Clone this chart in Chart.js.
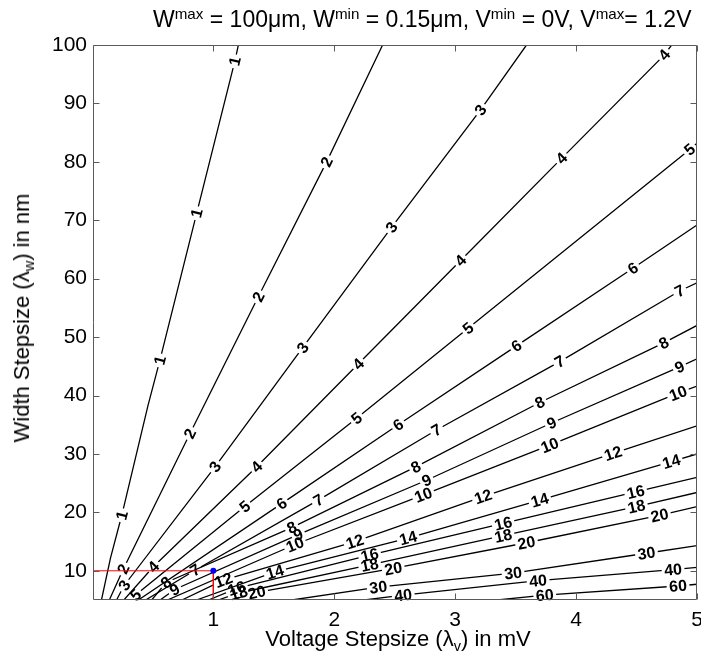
<!DOCTYPE html>
<html>
<head>
<meta charset="utf-8">
<script src="https://cdn.jsdelivr.net/npm/chart.js@4.4.1/dist/chart.umd.min.js"></script>
<style>
html,body{margin:0;padding:0;background:#fff;}
#wrap{position:relative;width:701px;height:654px;font-family:"Liberation Sans",Arial,Helvetica,sans-serif;color:#000;overflow:hidden;}
#c{position:absolute;left:0;top:0;}
.t{position:absolute;white-space:nowrap;line-height:1;}
.t sup{font-size:66%;vertical-align:0.55em;line-height:0;}
.t sub{font-size:66%;vertical-align:-0.35em;line-height:0;}
#title{left:153px;top:8px;font-size:23px;}
#xt{left:398px;top:628px;font-size:22px;transform:translateX(-50%);}
#yt{left:22px;top:318px;font-size:22px;transform:translate(-50%,-50%) rotate(-90deg);}
</style>
</head>
<body>
<div id="wrap">
<canvas id="c" width="701" height="654"></canvas>
<div class="t" id="title">W<sup>max</sup> = 100μm, W<sup>min</sup> = 0.15μm, V<sup>min</sup> = 0V, V<sup>max</sup>= 1.2V</div>
<div class="t" id="xt">Voltage Stepsize (λ<sub>v</sub>) in mV</div>
<div class="t" id="yt">Width Stepsize (λ<sub>w</sub>) in nm</div>
</div>
<script>
// ---- axis ranges and ticks ----
const xMin = 0.005, xMax = 5;
const yMin = 5, yMax = 100;
const xTicks = [1, 2, 3, 4, 5];
const yTicks = [10, 20, 30, 40, 50, 60, 70, 80, 90, 100];

// ---- selected operating point (red guide lines + blue dot) ----
const markerPoint = [1, 10];

// ---- contour levels ----
const levels = [1, 2, 3, 4, 5, 6, 7, 8, 9, 10, 12, 14, 16, 18, 20, 30, 40, 60];

// ---- contour paths: [voltage step (mV), width step (nm)] ----
const contour_1  = [[0.075,5],[0.15,12.2],[0.243,19.5],[0.46,38.3],[0.56,46.2],[0.86,71],[1.18,97.4],[1.207,100]];
const contour_2  = [[0.14,5],[0.256,10.3],[0.807,33.5],[1.372,56.9],[1.937,80],[2.40,100]];
const contour_3  = [[0.2,5],[0.26,7.4],[1.014,27.8],[1.739,48.2],[2.474,68.8],[3.21,88.9],[3.59,100]];
const contour_4  = [[0.26,5],[0.504,10.7],[1.359,27.8],[2.198,45.4],[3.045,63.1],[3.88,80.6],[4.73,98.3],[4.79,100]];
const contour_5  = [[0.32,5],[0.36,5.9],[1.26,21],[2.185,36.1],[3.107,51.5],[4.94,82.1],[5,83.2]];
const contour_6  = [[0.38,5],[1.565,21.5],[2.529,35],[3.507,48.5],[4.47,61.8],[5,69.2]];
const contour_7  = [[0.44,5],[0.849,10.1],[1.868,22.1],[2.846,34.1],[3.865,45.8],[4.856,57.9],[5,59.3]];
const contour_8  = [[0.49,5],[0.61,8.0],[1.648,17.4],[2.674,27.8],[3.70,38.8],[4.725,49.0],[5,52.0]];
const contour_9  = [[0.56,5],[0.68,6.8],[1.702,16.2],[2.764,25.5],[3.797,35.3],[4.856,44.9],[5,46.3]];
const contour_10 = [[0.62,5],[1.675,14.5],[2.736,23.0],[3.783,31.5],[4.843,40.4],[5,41.6]];
const contour_12 = [[0.74,5],[1.084,8.4],[2.171,15.0],[3.231,22.7],[4.306,30.1],[5,34.8]];
const contour_14 = [[0.86,5],[1.51,9.8],[2.611,15.6],[3.70,22.1],[4.788,28.7],[5,30.0]];
const contour_16 = [[0.96,5],[1.193,7.0],[2.293,12.7],[3.397,18.1],[4.493,23.5],[5,26.0]];
const contour_18 = [[1.04,5],[1.21,6.2],[2.293,11.0],[3.397,16.0],[4.499,21.0],[5,23.4]];
const contour_20 = [[1.15,5],[1.359,6.3],[2.488,10.4],[3.59,14.8],[4.69,19.5],[5,21.0]];
const contour_30 = [[1.65,5],[2.364,7.2],[3.479,9.6],[4.582,13.0],[5,14.3]];
const contour_40 = [[2.25,5],[2.57,5.85],[3.686,8.3],[4.802,10.2],[5,10.6]];
const contour_60 = [[3.35,5],[3.741,5.85],[4.843,7.4],[5,7.7]];

// ---- inline label anchors ----
const labels_1  = [[0.243,19.5],[0.56,46],[0.863,71.2],[1.18,97.2]];
const labels_2  = [[0.256,10.3],[0.807,33.5],[1.372,56.9],[1.937,80]];
const labels_3  = [[0.26,7.6],[1.014,27.8],[1.739,48.2],[2.474,68.8],[3.21,88.9]];
const labels_4  = [[0.504,10.7],[1.359,27.8],[2.198,45.4],[3.045,63.1],[3.88,80.6],[4.73,98.3]];
const labels_5  = [[0.355,5.9],[1.26,21],[2.185,36.1],[3.107,51.5],[4.94,82.1]];
const labels_6  = [[1.565,21.5],[2.529,35],[3.507,48.5],[4.47,61.8]];
const labels_7  = [[0.849,10.1],[1.868,22.1],[2.846,34.1],[3.865,45.8],[4.856,57.9]];
const labels_8  = [[0.61,8.0],[1.648,17.4],[2.674,27.8],[3.70,38.8],[4.725,49.0]];
const labels_9  = [[0.68,6.8],[1.702,16.2],[2.764,25.5],[3.797,35.3],[4.856,44.9]];
const labels_10 = [[1.675,14.5],[2.736,23],[3.783,31.5],[4.843,40.4]];
const labels_12 = [[1.084,8.4],[2.171,15],[3.231,22.7],[4.306,30.1]];
const labels_14 = [[1.51,9.8],[2.611,15.6],[3.70,22.1],[4.788,28.7]];
const labels_16 = [[1.19,7.1],[2.293,12.7],[3.397,18.1],[4.493,23.5]];
const labels_18 = [[1.21,6.2],[2.293,11],[3.397,16],[4.499,21]];
const labels_20 = [[1.359,6.3],[2.488,10.4],[3.59,14.8],[4.69,19.5]];
const labels_30 = [[2.364,7.2],[3.479,9.6],[4.582,13.0]];
const labels_40 = [[2.57,5.85],[3.686,8.3],[4.802,10.2]];
const labels_60 = [[3.741,5.85],[4.843,7.4]];

const contourPaths = [contour_1,contour_2,contour_3,contour_4,contour_5,contour_6,contour_7,contour_8,contour_9,contour_10,contour_12,contour_14,contour_16,contour_18,contour_20,contour_30,contour_40,contour_60];
const contourLabels = [labels_1,labels_2,labels_3,labels_4,labels_5,labels_6,labels_7,labels_8,labels_9,labels_10,labels_12,labels_14,labels_16,labels_18,labels_20,labels_30,labels_40,labels_60];

const FONT = '"Liberation Sans", Arial, Helvetica, sans-serif';
const LABEL_FONT = 'bold 16px ' + FONT;

// ---- datasets ----
const datasets = [];
// guide marks on top (first dataset is drawn last)
datasets.push({
  data: [{x: markerPoint[0], y: markerPoint[1]}],
  showLine: false, pointRadius: 3, pointBackgroundColor: '#0000ff', pointBorderColor: '#0000ff', borderWidth: 0
});
datasets.push({
  data: [{x: xMin, y: markerPoint[1]}, {x: markerPoint[0], y: markerPoint[1]}],
  showLine: true, borderColor: '#ff0000', borderWidth: 1, pointRadius: 0
});
datasets.push({
  data: [{x: markerPoint[0], y: markerPoint[1]}, {x: markerPoint[0], y: yMin}],
  showLine: true, borderColor: '#ff0000', borderWidth: 1, pointRadius: 0
});
levels.forEach((lv, i) => {
  datasets.push({
    data: contourPaths[i].map(p => ({x: p[0], y: p[1]})),
    showLine: true, borderColor: '#000', borderWidth: 1.3, pointRadius: 0, tension: 0,
    level: lv, labelPts: contourLabels[i]
  });
});

// ---- helpers for inline contour labels ----
function pixelPath(chart, ds) {
  const xs = chart.scales.x, ys = chart.scales.y;
  return ds.data.map(p => [xs.getPixelForValue(p.x), ys.getPixelForValue(p.y)]);
}
function pointAt(pts, cum, s) {
  s = Math.max(0, Math.min(cum[cum.length - 1], s));
  for (let i = 0; i < pts.length - 1; i++) {
    if (s <= cum[i + 1] || i === pts.length - 2) {
      const L = cum[i + 1] - cum[i] || 1;
      const t = (s - cum[i]) / L;
      return [pts[i][0] + t * (pts[i + 1][0] - pts[i][0]), pts[i][1] + t * (pts[i + 1][1] - pts[i][1])];
    }
  }
  return pts[pts.length - 1];
}
function labelBoxes(chart, ds) {
  const ctx = chart.ctx;
  const pts = pixelPath(chart, ds);
  const cum = [0];
  for (let i = 1; i < pts.length; i++) cum.push(cum[i - 1] + Math.hypot(pts[i][0] - pts[i - 1][0], pts[i][1] - pts[i - 1][1]));
  ctx.save();
  ctx.font = LABEL_FONT;
  const text = String(ds.level);
  const tw = ctx.measureText(text).width;
  ctx.restore();
  return ds.labelPts.map(lp => {
    const px = chart.scales.x.getPixelForValue(lp[0]);
    const py = chart.scales.y.getPixelForValue(lp[1]);
    let best = null;
    for (let i = 0; i < pts.length - 1; i++) {
      const [x1, y1] = pts[i], [x2, y2] = pts[i + 1];
      const dx = x2 - x1, dy = y2 - y1, L2 = dx * dx + dy * dy;
      let t = L2 ? ((px - x1) * dx + (py - y1) * dy) / L2 : 0;
      t = Math.max(0, Math.min(1, t));
      const qx = x1 + t * dx, qy = y1 + t * dy;
      const d = (qx - px) ** 2 + (qy - py) ** 2;
      if (!best || d < best.d) best = {d, qx, qy, s: cum[i] + t * Math.sqrt(L2)};
    }
    const a = pointAt(pts, cum, best.s - 9), b = pointAt(pts, cum, best.s + 9);
    let ang = Math.atan2(b[1] - a[1], b[0] - a[0]);
    if (ang > Math.PI / 2) ang -= Math.PI;
    if (ang < -Math.PI / 2) ang += Math.PI;
    return {cx: best.qx, cy: best.qy, ang, hw: tw / 2 + 2.5, hh: 7, text};
  });
}
function corners(b) {
  const c = Math.cos(b.ang), s = Math.sin(b.ang);
  return [[-b.hw, -b.hh], [b.hw, -b.hh], [b.hw, b.hh], [-b.hw, b.hh]].map(([u, v]) => [b.cx + u * c - v * s, b.cy + u * s + v * c]);
}

const contourLabelPlugin = {
  id: 'contourLabels',
  beforeDatasetDraw(chart, args) {
    const ds = chart.data.datasets[args.index];
    if (!ds.labelPts) return;
    const boxes = labelBoxes(chart, ds);
    ds._boxes = boxes;
    const ctx = chart.ctx;
    ctx.save();
    ctx.beginPath();
    ctx.rect(0, 0, chart.width, chart.height);
    boxes.forEach(b => {
      const cs = corners(b);
      ctx.moveTo(cs[0][0], cs[0][1]);
      for (let k = 1; k < 4; k++) ctx.lineTo(cs[k][0], cs[k][1]);
      ctx.closePath();
    });
    ctx.clip('evenodd');
  },
  afterDatasetDraw(chart, args) {
    const ds = chart.data.datasets[args.index];
    if (!ds.labelPts) return;
    const ctx = chart.ctx;
    ctx.restore();
    ctx.save();
    ctx.font = LABEL_FONT;
    ctx.fillStyle = '#000';
    ctx.textAlign = 'center';
    ctx.textBaseline = 'middle';
    ds._boxes.forEach(b => {
      ctx.save();
      ctx.translate(b.cx, b.cy);
      ctx.rotate(b.ang);
      ctx.fillText(b.text, 0, 1);
      ctx.restore();
    });
    ctx.restore();
  }
};

const boxPlugin = {
  id: 'axesBox',
  afterDraw(chart) {
    const {ctx, chartArea: a, scales} = chart;
    ctx.save();
    ctx.strokeStyle = '#5a5a5a';
    ctx.lineWidth = 1;
    const L = Math.round(a.left) + 0.5, R = Math.round(a.right) - 0.5;
    const T = Math.round(a.top) + 0.5, B = Math.round(a.bottom) - 0.5;
    ctx.beginPath();
    ctx.rect(L, T, R - L, B - T);
    xTicks.forEach(v => {
      const x = Math.round(scales.x.getPixelForValue(v)) + 0.5;
      ctx.moveTo(x, B); ctx.lineTo(x, B - 6);
      ctx.moveTo(x, T); ctx.lineTo(x, T + 6);
    });
    yTicks.forEach(v => {
      const y = Math.round(scales.y.getPixelForValue(v)) + 0.5;
      ctx.moveTo(L, y); ctx.lineTo(L + 6, y);
      ctx.moveTo(R, y); ctx.lineTo(R - 6, y);
    });
    ctx.stroke();
    ctx.restore();
  }
};

new Chart(document.getElementById('c'), {
  type: 'scatter',
  data: {datasets},
  options: {
    responsive: false,
    animation: false,
    devicePixelRatio: 1,
    events: [],
    layout: {padding: {top: 45, right: 4, left: 0, bottom: 0}},
    plugins: {legend: {display: false}, tooltip: {enabled: false}, title: {display: false}},
    scales: {
      x: {
        type: 'linear', min: xMin, max: xMax,
        grid: {display: false, drawTicks: false}, border: {display: false},
        ticks: {font: {family: FONT, size: 21}, color: '#000', padding: 8, maxRotation: 0},
        afterBuildTicks: s => { s.ticks = xTicks.map(v => ({value: v})); },
        afterFit: s => { s.height = 54; s.paddingLeft = 0; s.paddingRight = 0; }
      },
      y: {
        type: 'linear', min: yMin, max: yMax,
        grid: {display: false, drawTicks: false}, border: {display: false},
        ticks: {font: {family: FONT, size: 21}, color: '#000', padding: 6},
        afterBuildTicks: s => { s.ticks = yTicks.map(v => ({value: v})); },
        afterFit: s => { s.width = 93; s.paddingTop = 0; s.paddingBottom = 0; }
      }
    }
  },
  plugins: [contourLabelPlugin, boxPlugin]
});
</script>
</body>
</html>
